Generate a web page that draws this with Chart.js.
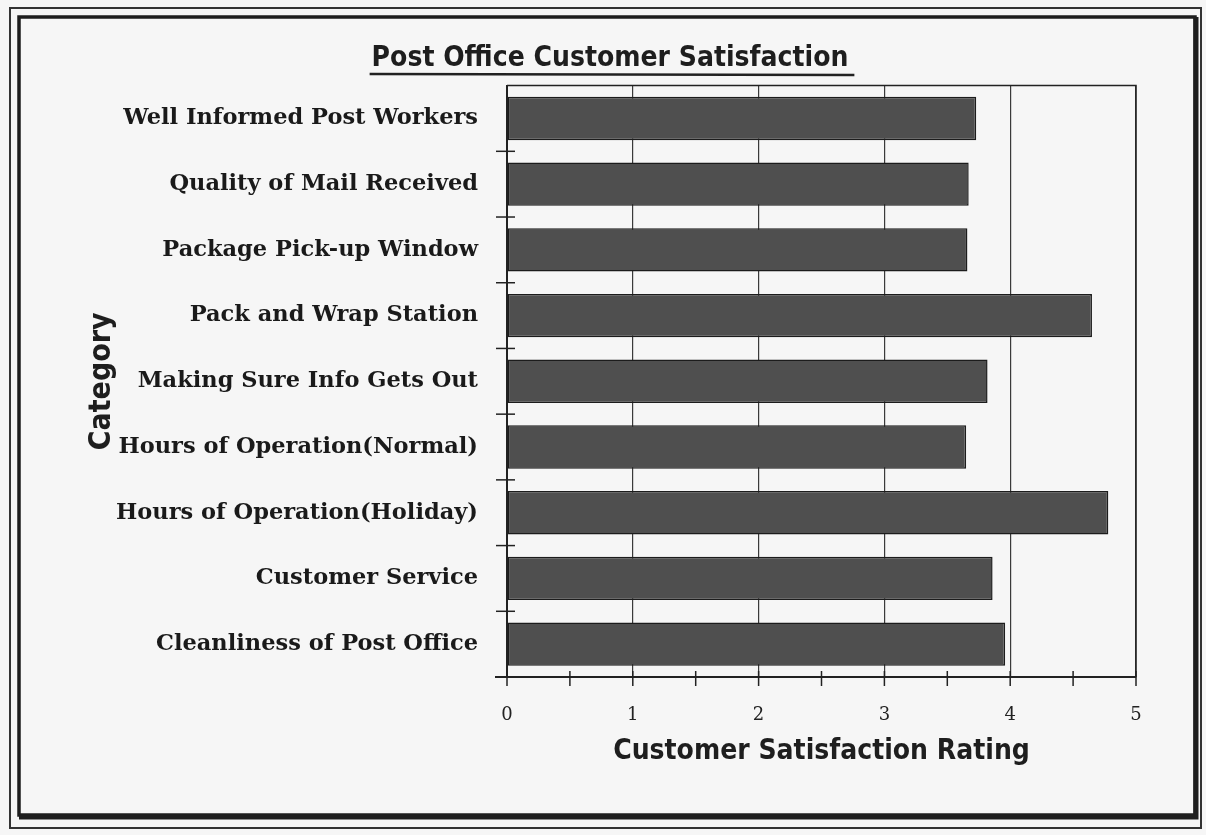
<!DOCTYPE html>
<html><head><meta charset="utf-8">
<script src="https://cdn.jsdelivr.net/npm/chart.js@4.4.0/dist/chart.umd.min.js"></script>
<style>html,body{margin:0;padding:0;background:#f5f5f5;} canvas{display:block;}</style>
</head><body>
<canvas id="c" width="1206" height="835"></canvas>
<script>
const categories = [
  'Well Informed Post Workers',
  'Quality of Mail Received',
  'Package Pick-up Window',
  'Pack and Wrap Station',
  'Making Sure Info Gets Out',
  'Hours of Operation(Normal)',
  'Hours of Operation(Holiday)',
  'Customer Service',
  'Cleanliness of Post Office'
];
const ratings = [3.73, 3.67, 3.66, 4.65, 3.82, 3.65, 4.78, 3.86, 3.96];
const xMin = 0, xMax = 5, xStep = 1, xMinorStep = 0.5;
const chartTitle = 'Post Office Customer Satisfaction';
const xAxisTitle = 'Customer Satisfaction Rating';
const yAxisTitle = 'Category';

const headFont = '"DejaVu Sans Condensed", "DejaVu Sans", sans-serif';
const labelFont = '"DejaVu Serif", serif';

const framePlugin = {
  id: 'frame',
  beforeDraw(chart) {
    const ctx = chart.ctx;
    ctx.save();
    ctx.fillStyle = '#f6f6f6';
    ctx.fillRect(0, 0, chart.width, chart.height);
    ctx.strokeStyle = '#333';
    ctx.lineWidth = 2;
    ctx.strokeRect(10, 8, 1191, 820);
    ctx.strokeStyle = '#1e1e1e';
    ctx.lineWidth = 3.5;
    ctx.strokeRect(19, 17, 1176, 798);
    ctx.lineWidth = 5;
    ctx.beginPath();
    ctx.moveTo(1196, 17); ctx.lineTo(1196, 817); ctx.lineTo(19, 817);
    ctx.stroke();
    ctx.restore();
  },
  afterDraw(chart) {
    const ctx = chart.ctx;
    const a = chart.chartArea;
    const xs = chart.scales.x, ys = chart.scales.y;
    ctx.save();
    ctx.strokeStyle = '#222';
    ctx.lineWidth = 1.5;
    ctx.beginPath();
    ctx.moveTo(a.left, a.top); ctx.lineTo(a.right, a.top); ctx.lineTo(a.right, a.bottom);
    ctx.stroke();
    for (let v = xMin; v <= xMax + 1e-9; v += xMinorStep) {
      const px = xs.getPixelForValue(v);
      ctx.beginPath(); ctx.moveTo(px, a.bottom - 6); ctx.lineTo(px, a.bottom + 9); ctx.stroke();
    }
    ctx.lineWidth = 2;
    ctx.beginPath(); ctx.moveTo(a.left - 12, a.bottom); ctx.lineTo(a.left, a.bottom); ctx.stroke();
    ctx.lineWidth = 1.5;
    for (let i = 0; i < categories.length - 1; i++) {
      const py = (ys.getPixelForTick(i) + ys.getPixelForTick(i + 1)) / 2;
      ctx.beginPath(); ctx.moveTo(a.left - 11, py); ctx.lineTo(a.left + 8, py); ctx.stroke();
    }
    const tb = chart.titleBlock;
    if (tb) {
      ctx.font = 'bold 28px ' + headFont;
      const w = ctx.measureText(chartTitle).width;
      const cx = (tb.left + tb.right) / 2;
      ctx.lineWidth = 2.5;
      ctx.strokeStyle = '#222';
      ctx.beginPath(); ctx.moveTo(cx - w / 2 - 2, 74); ctx.lineTo(cx + w / 2 + 6, 75); ctx.stroke();
    }
    ctx.restore();
  }
};

new Chart(document.getElementById('c'), {
  type: 'bar',
  data: {
    labels: categories,
    datasets: [{
      data: ratings,
      backgroundColor: '#4f4f4f',
      borderColor: '#1c1c1c',
      borderWidth: 1.5,
      borderSkipped: false,
      barPercentage: 0.66,
      categoryPercentage: 1.0
    }]
  },
  options: {
    indexAxis: 'y',
    responsive: false,
    animation: false,
    devicePixelRatio: 1,
    layout: { padding: { left: 84, right: 70, top: 20, bottom: 20 } },
    plugins: {
      legend: { display: false },
      tooltip: { enabled: false },
      title: {
        display: true,
        text: chartTitle,
        color: '#1e1e1e',
        font: { family: headFont, size: 28, weight: 'bold' },
        padding: { top: 22, bottom: 10 }
      }
    },
    scales: {
      x: {
        type: 'linear',
        min: xMin, max: xMax,
        ticks: { stepSize: xStep, padding: 28, color: '#222', font: { family: labelFont, size: 18 } },
        grid: { color: '#3a3a3a', lineWidth: 1.2, drawTicks: false },
        border: { display: true, color: '#222', width: 2 },
        title: {
          display: true, text: xAxisTitle, color: '#1e1e1e',
          font: { family: headFont, size: 28, weight: 'bold' },
          padding: { top: 0, bottom: 46 }
        },
        afterFit(scale) { scale.height = 138; }
      },
      y: {
        ticks: { padding: 29, color: '#1a1a1a', font: { family: labelFont, size: 22.5, weight: 'bold' } },
        grid: { display: false, drawTicks: false },
        border: { display: true, color: '#222', width: 2 },
        title: {
          display: true, text: yAxisTitle, color: '#1e1e1e',
          font: { family: headFont, size: 30, weight: 'bold' },
          padding: { top: 0, bottom: 0 }
        },
        afterFit(scale) { scale.width = 423; }
      }
    }
  },
  plugins: [framePlugin]
});
</script>
</body></html>
